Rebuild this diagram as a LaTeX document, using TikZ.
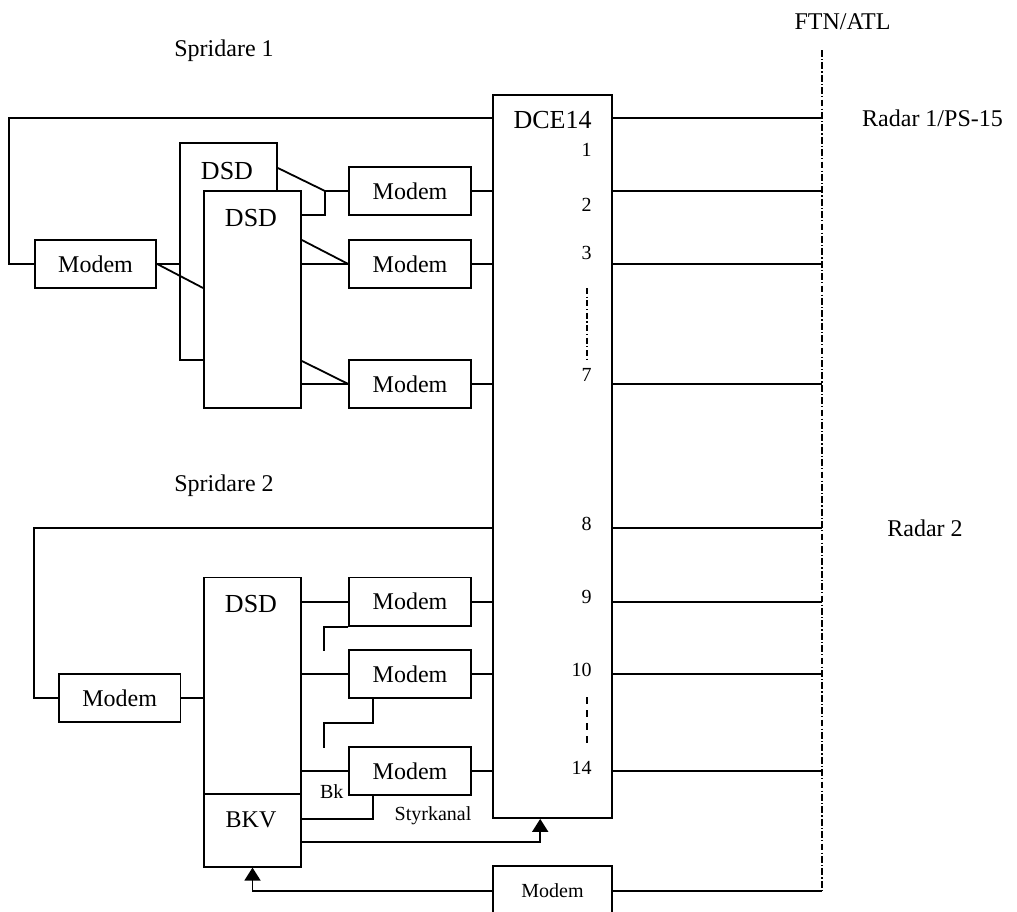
\documentclass[tikz,border=0pt]{standalone}
\usepackage{fontspec}
\setmainfont{Liberation Serif}
\usetikzlibrary{arrows.meta,positioning}
\tikzset{
  basebox/.style={rectangle,draw=black,line width=0.9pt,inner sep=0pt,
                  fill=white,font=\fontsize{12}{14}\selectfont},
  modembox/.style={basebox,minimum width=60.8pt,minimum height=24.2pt},
  dsdbox/.style={basebox,minimum width=48.5pt,minimum height=108.5pt},
  dcebox/.style={basebox,minimum width=59.2pt,minimum height=361.5pt},
  txt/.style={inner sep=0pt,font=\fontsize{12}{14}\selectfont},
  bigtxt/.style={inner sep=0pt,font=\fontsize{13}{15}\selectfont},
  smalltxt/.style={inner sep=0pt,font=\fontsize{10}{12}\selectfont},
  wire/.style={line width=0.9pt},
  arr/.style={wire,-{Triangle[length=6.5pt,width=8pt]}},
  ftnline/.style={line width=1.1pt,dash pattern=on 3.4pt off 1.1pt on 0.6pt off 1.1pt},
  dotline/.style={line width=0.9pt,dash pattern=on 3pt off 1.3pt on 0.6pt off 1.3pt},
  dshline/.style={line width=0.9pt,dash pattern=on 3.5pt off 3pt}
}
\begin{document}
\begin{tikzpicture}[x=0.5pt,y=-0.5pt]
  \useasboundingbox (0,0) rectangle (1017,911);

  % FTN/ATL boundary
  \coordinate (ftnT) at (822,50);
  \coordinate (ftnB) at (822,891);
  \node[txt] (ftn) at (842.5,22) {FTN/ATL};
  \node[txt] (radar1) at (932.5,118) {Radar 1/PS-15};
  \node[txt] (radar2) at (925,528) {Radar 2};

  % DCE14
  \node[dcebox] (dce) at (552.5,456.5) {};
  \node[bigtxt] (dcelbl) at (552.5,120) {DCE14};
  \foreach \n/\y in {1/150,2/205,3/253,7/375,8/524,9/597,10/670,14/767.5}
    \node[smalltxt,anchor=east] (port\n) at (592,\y) {\n};
  \draw[dotline] (587,288) -- (587,360);
  \draw[dshline] (587,697) -- (587,747);
  \foreach \y in {118,191,264,384,528.3,601.7,674,770.7}
    \draw[wire] (dce.east |- 0,\y) -- (ftnT |- 0,\y);

  % Spridare 1
  \node[txt] (sprid1) at (224,51) {Spridare 1};
  \node[modembox] (mL1) at (95.5,264) {Modem};
  \node[dsdbox] (dsdB) at (228.5,251.5) {};
  \node[bigtxt] (dsdBlbl) at (227,171) {DSD};
  \coordinate (jA) at (325,191);
  \draw[wire] (dsdB.east |- 0,168) -- (jA);
  \node[dsdbox] (dsdF) at (252.5,299.5) {};
  \node[bigtxt] (dsdFlbl) at (251,218) {DSD};
  \node[modembox] (mA) at (410,191) {Modem};
  \node[modembox] (mB) at (410,264) {Modem};
  \node[modembox] (mC) at (410,384) {Modem};

  \draw[wire] (mL1.west) -- ++(-24.5,0) |- (dce.west |- 0,118);
  \draw[wire] (mL1.east) -- (mL1.east -| dsdB.west);
  \draw[wire] (mL1.east) -- (dsdF.west |- 0,288);
  \draw[wire] (jA) -- (mA.west);
  \draw[wire] (dsdF.east |- 0,215) -| (jA);
  \draw[wire] (dsdF.east |- 0,240) -- (mB.west);
  \draw[wire] (dsdF.east |- mB) -- (mB.west);
  \draw[wire] (dsdF.east |- 0,361) -- (mC.west);
  \draw[wire] (dsdF.east |- mC) -- (mC.west);
  \foreach \m in {mA,mB,mC}
    \draw[wire] (\m.east) -- (\m.east -| dce.west);

  % Spridare 2
  \node[txt] (sprid2) at (224,486) {Spridare 2};
  \node[modembox] (mL2) at (119.7,698) {Modem};
  \node[dsdbox] (dsd2) at (252.5,686) {};
  \node[bigtxt] (dsd2lbl) at (251,604) {DSD};
  \node[basebox,minimum width=48.5pt,minimum height=36.2pt] (bkv) at (252.5,830.5) {};
  \node[txt] (bkvlbl) at (251,820) {BKV};
  \node[modembox] (m1) at (410,601.7) {Modem};
  \node[modembox] (m2) at (410,674) {Modem};
  \node[modembox] (m3) at (410,771) {Modem};
  \node[smalltxt] (bk) at (331.7,792) {Bk};
  \node[smalltxt] (styr) at (433,816) {Styrkanal};

  \draw[wire] (mL2.west) -- ++(-24.3,0) |- (dce.west |- 0,528.3);
  \draw[wire] (mL2.east) -- (dsd2.west |- mL2);
  \foreach \m in {m1,m2,m3}{
    \draw[wire] (dsd2.east |- \m) -- (\m.west);
    \draw[wire] (\m.east) -- (\m.east -| dce.west);
  }
  \draw[wire] (m1.south west) -- ++(-24,0) -- ++(0,24.3);
  \draw[wire] (m2.south west) ++(24.3,0) -- ++(0,24) -- ++(-48.3,0) -- ++(0,24.4);
  \draw[wire] (m3.south west) ++(24.3,0) |- (bkv.east |- 0,819);

  % Styrkanal to DCE14
  \draw[arr] (bkv.east |- 0,842.3) -| ([xshift=23.9pt]dce.south west);

  % Modem at FTN/ATL
  \node[modembox,minimum height=25pt,font=\fontsize{10}{12}\selectfont,
        minimum width=59.2pt] (mX) at (552.5,891) {Modem};
  \draw[arr] (mX.west) -| (bkv.south);
  \draw[wire] (mX.east) -- (mX.east -| ftnB);
  \draw[ftnline] (ftnT) -- (ftnB);

\end{tikzpicture}
\end{document}
